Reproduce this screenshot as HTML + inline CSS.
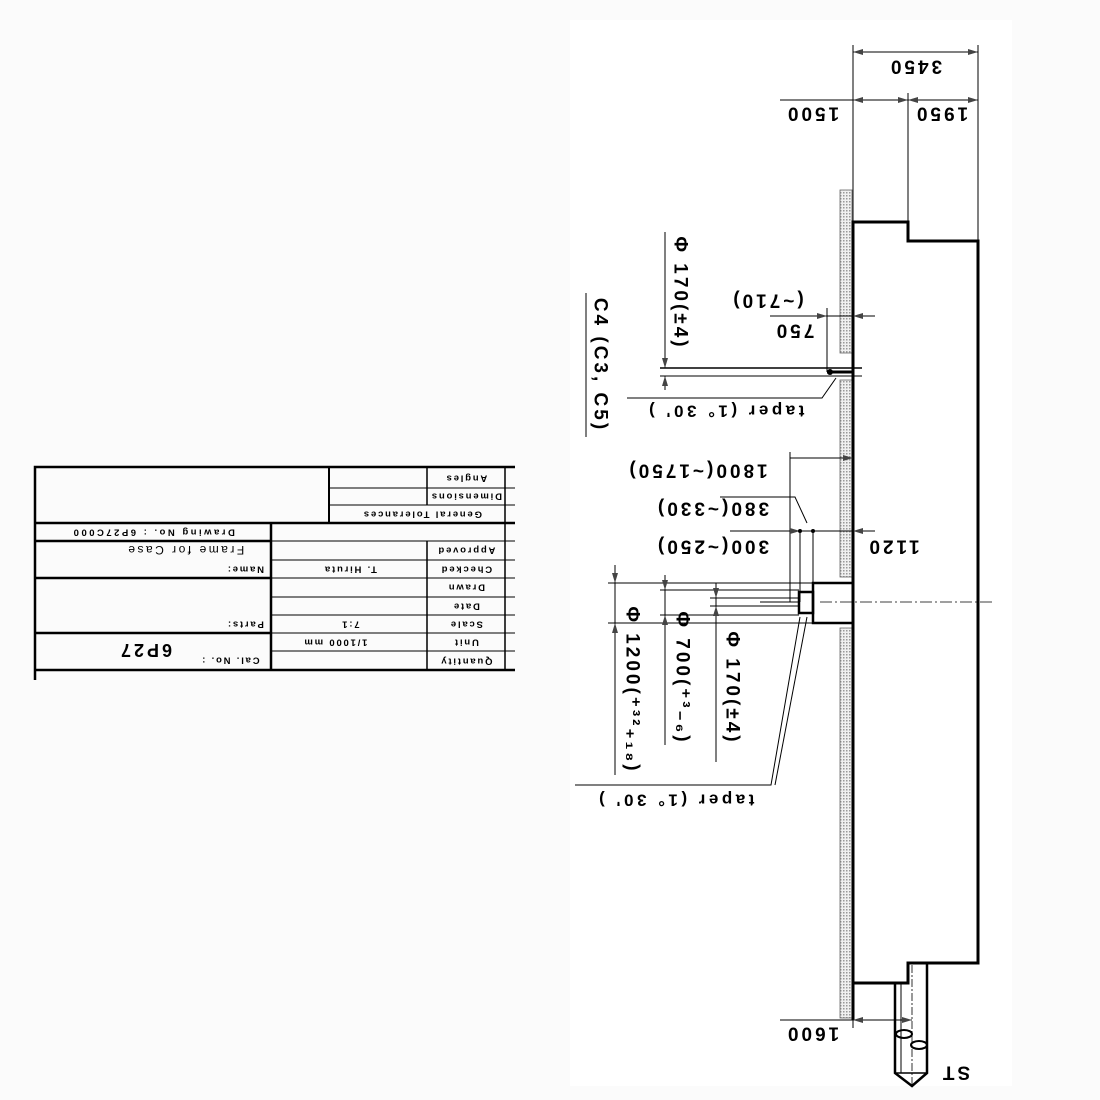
<!DOCTYPE html>
<html><head><meta charset="utf-8"><style>
html,body{margin:0;padding:0;background:#fbfbfb;}
svg{display:block;}
text{font-family:"Liberation Sans",sans-serif;fill:#000;}
.d{font-size:19px;font-weight:bold;letter-spacing:3px;}
.t{font-size:9.5px;letter-spacing:1.8px;font-weight:bold;}
</style></head><body>
<svg width="1100" height="1100" viewBox="0 0 1100 1100" xmlns="http://www.w3.org/2000/svg">
<defs>
<pattern id="dots" width="3" height="3" patternUnits="userSpaceOnUse">
<rect width="3" height="3" fill="#f0f0f0"/><rect x="0" y="0" width="1.5" height="1.5" fill="#999"/>
</pattern>
<marker id="ar" viewBox="0 0 10 6" refX="10" refY="3" markerWidth="10" markerHeight="6" orient="auto-start-reverse" markerUnits="userSpaceOnUse">
<path d="M0 0 L10 3 L0 6 Z" fill="#444"/>
</marker>
</defs>
<rect x="570" y="20" width="442" height="1066" fill="#fff"/>

<g fill="url(#dots)" stroke="#666" stroke-width="0.8">
<rect x="840" y="190" width="12" height="163"/>
<rect x="840" y="380" width="12" height="197"/>
<rect x="840" y="628" width="12" height="390"/>
</g>

<g stroke="#000" fill="none">
<path d="M853 1020 L853 222 L908 222 L908 241 L978 241 L978 963 L908 963 L908 983 L853 983" stroke-width="3"/>
<line x1="853" y1="45" x2="853" y2="222" stroke-width="1"/>
<line x1="908" y1="93" x2="908" y2="222" stroke-width="1"/>
<line x1="978" y1="45" x2="978" y2="241" stroke-width="1"/>
<line x1="853" y1="52" x2="978" y2="52" stroke-width="1" marker-start="url(#ar)" marker-end="url(#ar)"/>
<line x1="780" y1="100" x2="853" y2="100" stroke-width="1"/>
<line x1="853" y1="100" x2="908" y2="100" stroke-width="1" marker-start="url(#ar)" marker-end="url(#ar)"/>
<line x1="908" y1="100" x2="978" y2="100" stroke-width="1" marker-start="url(#ar)" marker-end="url(#ar)"/>
<path d="M895 983 L895 1073 L912 1086 L927 1073 L927 963" stroke-width="2.5"/>
<line x1="901" y1="983" x2="901" y2="1073" stroke-width="1"/>
<line x1="895" y1="1073" x2="927" y2="1073" stroke-width="1.5"/>
<line x1="912" y1="965" x2="912" y2="1086" stroke-width="0.8" stroke-dasharray="8,2,2,2"/>
<ellipse cx="904" cy="1034" rx="8" ry="4" stroke-width="2"/>
<ellipse cx="919" cy="1045" rx="8" ry="4" stroke-width="2"/>
<line x1="780" y1="1020" x2="853" y2="1020" stroke-width="1"/>
<line x1="853" y1="1020" x2="912" y2="1020" stroke-width="1" marker-start="url(#ar)" marker-end="url(#ar)"/>
<line x1="853" y1="1020" x2="853" y2="1028" stroke-width="1"/>

<line x1="660" y1="368" x2="862" y2="368" stroke-width="1.5"/>
<line x1="660" y1="376" x2="862" y2="376" stroke-width="1"/>
<line x1="827" y1="372" x2="853" y2="372" stroke-width="3"/>
<line x1="770" y1="316" x2="827" y2="316" stroke-width="1" marker-end="url(#ar)"/>
<line x1="875" y1="316" x2="853" y2="316" stroke-width="1" marker-end="url(#ar)"/>
<line x1="827" y1="316" x2="853" y2="316" stroke-width="1"/>
<line x1="827" y1="308" x2="827" y2="372" stroke-width="1"/>
<line x1="665" y1="232" x2="665" y2="368" stroke-width="1" marker-end="url(#ar)"/>
<line x1="665" y1="390" x2="665" y2="376" stroke-width="1" marker-end="url(#ar)"/>
<polyline points="836,378 822,398 627,398" stroke-width="1"/>
<line x1="586" y1="293" x2="586" y2="437" stroke-width="1"/>

<rect x="813" y="583" width="40" height="40" stroke-width="2.5"/>
<rect x="799" y="592" width="14" height="21" stroke-width="2.5"/>
<line x1="820" y1="602" x2="995" y2="602" stroke-width="0.8" stroke-dasharray="12,3,2,3"/>
<line x1="760" y1="602" x2="799" y2="602" stroke-width="1"/>
<line x1="790" y1="458" x2="853" y2="458" stroke-width="1" marker-end="url(#ar)"/>
<line x1="790" y1="452" x2="790" y2="602" stroke-width="1"/>
<polyline points="720,497 795,497 807,523" stroke-width="1"/>
<line x1="730" y1="531" x2="800" y2="531" stroke-width="1" marker-end="url(#ar)"/>
<line x1="800" y1="531" x2="853" y2="531" stroke-width="1"/>
<line x1="875" y1="531" x2="853" y2="531" stroke-width="1" marker-end="url(#ar)"/>
<line x1="800" y1="531" x2="800" y2="602" stroke-width="1"/>
<line x1="813" y1="531" x2="813" y2="583" stroke-width="1"/>
<line x1="608" y1="583" x2="813" y2="583" stroke-width="1"/>
<line x1="608" y1="623" x2="813" y2="623" stroke-width="1"/>
<line x1="660" y1="590" x2="799" y2="590" stroke-width="1"/>
<line x1="660" y1="615" x2="799" y2="615" stroke-width="1"/>
<line x1="710" y1="598" x2="799" y2="598" stroke-width="1"/>
<line x1="710" y1="606" x2="799" y2="606" stroke-width="1"/>
<line x1="615" y1="565" x2="615" y2="583" stroke-width="1" marker-end="url(#ar)"/>
<line x1="615" y1="583" x2="615" y2="623" stroke-width="1"/>
<line x1="615" y1="775" x2="615" y2="623" stroke-width="1" marker-end="url(#ar)"/>
<line x1="665" y1="575" x2="665" y2="590" stroke-width="1" marker-end="url(#ar)"/>
<line x1="665" y1="590" x2="665" y2="615" stroke-width="1"/>
<line x1="665" y1="745" x2="665" y2="615" stroke-width="1" marker-end="url(#ar)"/>
<line x1="716" y1="583" x2="716" y2="598" stroke-width="1" marker-end="url(#ar)"/>
<line x1="716" y1="598" x2="716" y2="606" stroke-width="1"/>
<line x1="716" y1="762" x2="716" y2="606" stroke-width="1" marker-end="url(#ar)"/>
<polyline points="800,617 771,785 575,785" stroke-width="1"/>
<line x1="807" y1="617" x2="775" y2="785" stroke-width="1"/>
</g>
<circle cx="800" cy="531" r="2"/><circle cx="813" cy="531" r="2"/>
<circle cx="830" cy="372" r="3"/>

<g class="d">
<text transform="rotate(180 915 66)" x="915" y="66" text-anchor="middle" dominant-baseline="central">3450</text>
<text transform="rotate(180 812 113)" x="812" y="113" text-anchor="middle" dominant-baseline="central">1500</text>
<text transform="rotate(180 941 113)" x="941" y="113" text-anchor="middle" dominant-baseline="central">1950</text>
<text transform="rotate(180 794 330)" x="794" y="330" text-anchor="middle" dominant-baseline="central">750</text>
<text transform="rotate(180 767 300)" x="767" y="300" text-anchor="middle" dominant-baseline="central">(~710)</text>
<text transform="rotate(180 725 411)" x="725" y="411" text-anchor="middle" dominant-baseline="central" style="font-size:17px;letter-spacing:3.5px">taper (1° 30' )</text>
<text transform="rotate(180 697 470)" x="697" y="470" text-anchor="middle" dominant-baseline="central">1800(~1750)</text>
<text transform="rotate(180 712 508)" x="712" y="508" text-anchor="middle" dominant-baseline="central">380(~330)</text>
<text transform="rotate(180 712 546)" x="712" y="546" text-anchor="middle" dominant-baseline="central">300(~250)</text>
<text transform="rotate(180 893 546)" x="893" y="546" text-anchor="middle" dominant-baseline="central">1120</text>
<text transform="rotate(180 675 800)" x="675" y="800" text-anchor="middle" dominant-baseline="central" style="font-size:17px;letter-spacing:3.5px">taper (1° 30' )</text>
<text transform="rotate(180 812 1033)" x="812" y="1033" text-anchor="middle" dominant-baseline="central">1600</text>
<text transform="rotate(180 955 1072)" x="955" y="1072" text-anchor="middle" dominant-baseline="central">ST</text>
<text transform="rotate(90 680 293)" x="680" y="293" text-anchor="middle" dominant-baseline="central">Φ 170(±4)</text>
<text transform="rotate(90 600 365)" x="600" y="365" text-anchor="middle" dominant-baseline="central">C4 (C3, C5)</text>
<text transform="rotate(90 632 690)" x="632" y="690" text-anchor="middle" dominant-baseline="central">Φ 1200(⁺³²₊₁₈)</text>
<text transform="rotate(90 682 678)" x="682" y="678" text-anchor="middle" dominant-baseline="central">Φ 700(⁺³₋₆)</text>
<text transform="rotate(90 732 688)" x="732" y="688" text-anchor="middle" dominant-baseline="central">Φ 170(±4)</text>
</g>

<g stroke="#000" fill="none">
<path d="M35 680 L35 467 L515 467" stroke-width="2.5"/>
<line x1="35" y1="523" x2="515" y2="523" stroke-width="2.5"/>
<line x1="35" y1="541" x2="271" y2="541" stroke-width="2.5"/>
<line x1="35" y1="578" x2="271" y2="578" stroke-width="2.5"/>
<line x1="35" y1="633" x2="271" y2="633" stroke-width="2.5"/>
<line x1="35" y1="670" x2="515" y2="670" stroke-width="2.5"/>
<line x1="271" y1="523" x2="271" y2="670" stroke-width="2.5"/>
<line x1="329" y1="467" x2="329" y2="523" stroke-width="2"/>
<line x1="427" y1="467" x2="427" y2="505" stroke-width="1.5"/>
<line x1="427" y1="541" x2="427" y2="670" stroke-width="1.5"/>
<line x1="505" y1="467" x2="505" y2="670" stroke-width="1.5"/>
<line x1="329" y1="488" x2="515" y2="488" stroke-width="1"/>
<line x1="329" y1="505" x2="515" y2="505" stroke-width="1"/>
<line x1="271" y1="541" x2="515" y2="541" stroke-width="1"/>
<line x1="271" y1="560" x2="515" y2="560" stroke-width="1"/>
<line x1="271" y1="578" x2="515" y2="578" stroke-width="1"/>
<line x1="271" y1="597" x2="515" y2="597" stroke-width="1"/>
<line x1="271" y1="615" x2="515" y2="615" stroke-width="1"/>
<line x1="271" y1="633" x2="515" y2="633" stroke-width="1"/>
<line x1="271" y1="651" x2="515" y2="651" stroke-width="1"/>
</g>
<g class="t">
<text transform="rotate(180 466 478)" x="466" y="478" text-anchor="middle" dominant-baseline="central">Angles</text>
<text transform="rotate(180 466 496)" x="466" y="496" text-anchor="middle" dominant-baseline="central">Dimensions</text>
<text transform="rotate(180 422 514)" x="422" y="514" text-anchor="middle" dominant-baseline="central">General Tolerances</text>
<text transform="rotate(180 153 532)" x="153" y="532" text-anchor="middle" dominant-baseline="central" style="letter-spacing:2.5px">Drawing No. : 6P27C000</text>
<text transform="rotate(180 466 550)" x="466" y="550" text-anchor="middle" dominant-baseline="central">Approved</text>
<text transform="rotate(180 466 569)" x="466" y="569" text-anchor="middle" dominant-baseline="central">Checked</text>
<text transform="rotate(180 466 587)" x="466" y="587" text-anchor="middle" dominant-baseline="central">Drawn</text>
<text transform="rotate(180 466 606)" x="466" y="606" text-anchor="middle" dominant-baseline="central">Date</text>
<text transform="rotate(180 466 624)" x="466" y="624" text-anchor="middle" dominant-baseline="central">Scale</text>
<text transform="rotate(180 466 642)" x="466" y="642" text-anchor="middle" dominant-baseline="central">Unit</text>
<text transform="rotate(180 466 661)" x="466" y="661" text-anchor="middle" dominant-baseline="central">Quantity</text>
<text transform="rotate(180 350 569)" x="350" y="569" text-anchor="middle" dominant-baseline="central">T. Hiruta</text>
<text transform="rotate(180 350 624)" x="350" y="624" text-anchor="middle" dominant-baseline="central">7:1</text>
<text transform="rotate(180 335 642)" x="335" y="642" text-anchor="middle" dominant-baseline="central">1/1000 mm</text>
<text transform="rotate(180 245 569)" x="245" y="569" text-anchor="middle" dominant-baseline="central">Name:</text>
<text transform="rotate(180 245 624)" x="245" y="624" text-anchor="middle" dominant-baseline="central">Parts:</text>
<text transform="rotate(180 230 660)" x="230" y="660" text-anchor="middle" dominant-baseline="central">Cal. No. :</text>
<text transform="rotate(180 185 550)" x="185" y="550" text-anchor="middle" dominant-baseline="central" style="font-size:12px;letter-spacing:2.5px;font-weight:normal">Frame  for  Case</text>
<text transform="rotate(180 145 650)" x="145" y="650" text-anchor="middle" dominant-baseline="central" style="font-size:18px;font-weight:bold;letter-spacing:3px">6P27</text>
</g>
</svg>
</body></html>
